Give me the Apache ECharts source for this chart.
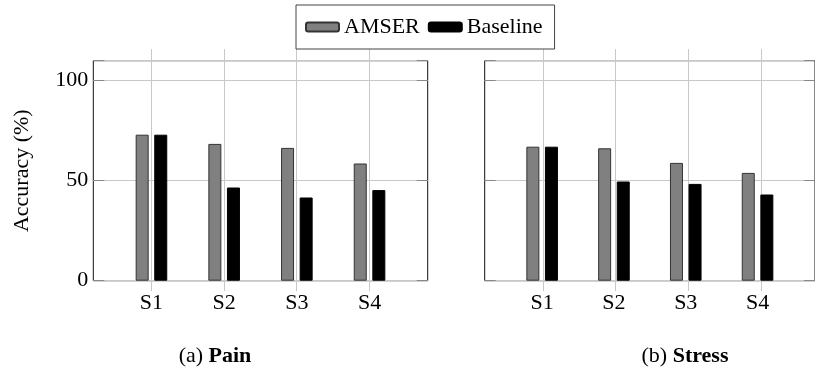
<!DOCTYPE html>
<html>
<head>
<meta charset="utf-8">
<script src="https://cdn.jsdelivr.net/npm/echarts@6/dist/echarts.min.js"></script>
<style>
html,body{margin:0}
#chart{width:815px;height:369px;}
</style>
</head>
<body>
<div id="chart"></div>
<script>
// ---- data ----
const categories = ['S1', 'S2', 'S3', 'S4'];
const seriesNames = ['AMSER', 'Baseline'];
const painAMSER = [73, 68.4, 66.4, 58.6];
const painBaseline = [73, 46.6, 41.6, 45.3];
const stressAMSER = [67, 66.2, 58.9, 53.9];
const stressBaseline = [67, 49.6, 48.4, 43.1];
const yTicks = [0, 50, 100];
const panelTitles = [['(a) ', 'Pain'], ['(b) ', 'Stress']];
const yAxisTitle = 'Accuracy (%)';

// ---- build ----
const toXY = vals => categories.map((c, i) => [i + 1, vals[i]]);
const catLabel = v => {
  const r = Math.round(v);
  return Math.abs(v - r) < 1e-6 && r >= 1 && r <= categories.length ? categories[r - 1] : '';
};
const yLabel = v => (yTicks.indexOf(Math.round(v)) >= 0 && Math.abs(v - Math.round(v)) < 1e-6) ? String(Math.round(v)) : '';

const panels = [
  { plotLeft: 93.3, linesLeft: 151.3, vals: [painAMSER, painBaseline], showY: true },
  { plotLeft: 484.7, linesLeft: 543, vals: [stressAMSER, stressBaseline], showY: false }
];
const gridList = [], xAxisList = [], yAxisList = [], seriesList = [];
panels.forEach((p) => {
  const gLines = gridList.length;
  gridList.push({ left: p.linesLeft, width: 218, top: 49, height: 242 });
  const gPlot = gridList.length;
  gridList.push({ left: p.plotLeft, width: 334.4, top: 60.7, height: 220, show: true, borderColor: '#111', borderWidth: 1, backgroundColor: 'transparent' });

  xAxisList.push({ gridIndex: gLines, type: 'value', min: 1, max: 4, interval: 1,
    axisLine: { show: false }, axisTick: { show: false }, axisLabel: { show: false },
    splitLine: { show: true, lineStyle: { color: '#c8c8c8', width: 1 } } });
  const xPlot = xAxisList.length;
  xAxisList.push({ gridIndex: gPlot, type: 'value', min: 0.2, max: 4.8,
    axisLine: { show: false }, axisTick: { show: false }, splitLine: { show: false },
    axisLabel: { show: true, formatter: catLabel, margin: 12, color: '#000', fontFamily: 'Liberation Serif', fontSize: 22,
      showMinLabel: false, showMaxLabel: false } });

  yAxisList.push({ gridIndex: gLines, type: 'value', min: 0, max: 1, show: false });
  const yPlot = yAxisList.length;
  yAxisList.push({ gridIndex: gPlot, type: 'value', position: 'left', min: 0, max: 110, interval: 50,
    name: p.showY ? yAxisTitle : '', nameLocation: 'middle', nameRotate: 90, nameGap: 60,
    nameTextStyle: { fontFamily: 'Liberation Serif', fontSize: 22, color: '#000' },
    axisLine: { show: false },
    axisTick: { show: true, inside: true, length: 11, lineStyle: { color: '#888' } },
    axisLabel: { show: p.showY, formatter: yLabel, margin: 5, color: '#000', fontFamily: 'Liberation Serif', fontSize: 22 },
    splitLine: { show: true, lineStyle: { color: '#c8c8c8', width: 1 } } });
  yAxisList.push({ gridIndex: gPlot, type: 'value', position: 'right', min: 0, max: 110, interval: 50,
    axisLine: { show: false },
    axisTick: { show: true, inside: true, length: 11, lineStyle: { color: '#888' } },
    axisLabel: { show: false }, splitLine: { show: false } });

  seriesList.push({ type: 'bar', name: seriesNames[0], xAxisIndex: xPlot, yAxisIndex: yPlot,
    data: toXY(p.vals[0]), barWidth: 13, z: 5,
    itemStyle: { color: '#808080', borderColor: '#333', borderWidth: 1 } });
  seriesList.push({ type: 'bar', name: seriesNames[1], xAxisIndex: xPlot, yAxisIndex: yPlot,
    data: toXY(p.vals[1]), barWidth: 13, barGap: '43%', z: 5,
    itemStyle: { color: '#000', borderColor: '#000', borderWidth: 1 } });
});

const richStyle = {
  n: { fontFamily: 'Liberation Serif', fontSize: 22, color: '#000', fontWeight: 'normal' },
  b: { fontFamily: 'Liberation Serif', fontSize: 22, fontWeight: 'bold', color: '#000' }
};
const titleList = panelTitles.map((t, i) => ({
  left: i === 0 ? 210 : 680, top: 340, textAlign: 'center',
  text: '{n|' + t[0] + '}{b|' + t[1] + '}',
  textStyle: { fontFamily: 'Liberation Serif', fontSize: 22, rich: richStyle }
}));

const chart = echarts.init(document.getElementById('chart'));
chart.setOption({
  title: titleList,
  legend: {
    data: seriesNames, left: 296, top: 5, orient: 'horizontal',
    itemWidth: 33, itemHeight: 9, itemGap: 8,
    padding: [11, 12, 11, 9], borderColor: '#444', borderWidth: 1, backgroundColor: '#fff',
    textStyle: { fontFamily: 'Liberation Serif', fontSize: 22, color: '#000' },
    selectedMode: false
  },
  grid: gridList, xAxis: xAxisList, yAxis: yAxisList, series: seriesList
});
</script>
</body>
</html>
